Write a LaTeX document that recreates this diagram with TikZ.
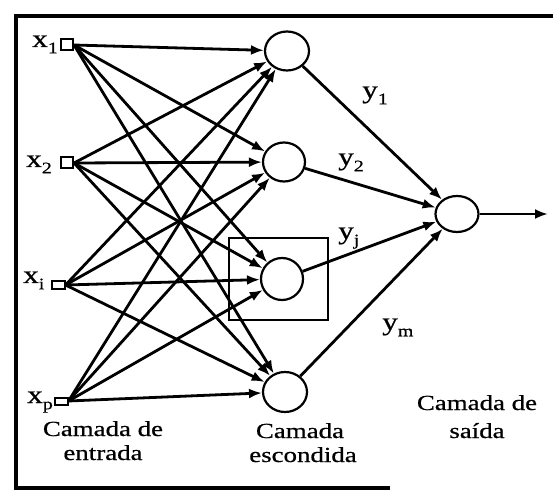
\documentclass[tikz,border=0pt]{standalone}
\usepackage{fontspec}
\setmainfont{Liberation Serif}[FakeStretch=1.25,FakeBold=0.6]
\usetikzlibrary{arrows.meta,shapes.geometric}
\newcommand\lsub[1]{\raisebox{-0.25em}{\fontsize{16}{16}\selectfont #1}}
\tikzset{
  inbox/.style={draw, rectangle, line width=2pt, inner sep=0pt},
  neuron/.style={draw, ellipse, line width=2.2pt, inner sep=0pt},
  conn/.style={line width=2.8pt, -{Latex[length=13pt,width=10pt]}},
  lbl/.style={anchor=base west, inner sep=0pt, font=\fontsize{25}{28}\selectfont},
  captxt/.style={anchor=base, inner sep=0pt, font=\fontsize{21.5}{24}\selectfont},
}
\begin{document}
\begin{tikzpicture}[x=1pt,y=-1pt]
\useasboundingbox (0,0) rectangle (555,492);
% frame
\draw[line width=4.5pt] (553,16) -- (16,16) -- (16,488) -- (390,488);
% inputs
\node[inbox, minimum width=12pt, minimum height=11pt] (x1) at (67,45) {};
\node[inbox, minimum width=12pt, minimum height=11pt] (x2) at (67,163) {};
\node[inbox, minimum width=13pt, minimum height=8pt] (xi) at (58,285) {};
\node[inbox, minimum width=13pt, minimum height=7pt] (xp) at (61,401) {};
% hidden
\node[neuron, minimum width=44pt, minimum height=39pt] (h1) at (287,51) {};
\node[neuron, minimum width=42pt, minimum height=39pt] (h2) at (284,162) {};
\node[neuron, minimum width=42pt, minimum height=42pt] (hj) at (282,279) {};
\node[neuron, minimum width=44pt, minimum height=40pt] (hm) at (285,392) {};
% output
\node[neuron, minimum width=43pt, minimum height=36pt] (o) at (457,214) {};
\coordinate (out) at (548,214);
% box around hj
\draw[line width=2.4pt] (229,238) rectangle (328,320);
% connections input -> hidden
\foreach \i in {x1,x2,xi,xp}{
  \foreach \h in {h1,h2,hj,hm}{
    \draw[conn] (\i.east) -- (\h);
  }
}
% hidden -> output
\foreach \h in {h1,h2,hj,hm}{
  \draw[conn] (\h) -- (o);
}
\draw[conn] (o) -- (out);
% labels
\node[lbl] (lx1) at (32,47) {x\lsub{1}};
\node[lbl] (lx2) at (26,167) {x\lsub{2}};
\node[lbl] (lxi) at (23,283) {x\lsub{i}};
\node[lbl] (lxp) at (27,403) {x\lsub{p}};
\node[lbl] (ly1) at (362,98) {y\lsub{1}};
\node[lbl] (ly2) at (338,165) {y\lsub{2}};
\node[lbl] (lyj) at (338,239) {y\lsub{j}};
\node[lbl] (lym) at (382,330) {y\lsub{m}};
% captions
\node[captxt] (ce1) at (103,436) {Camada de};
\node[captxt] (ce2) at (103,460) {entrada};
\node[captxt] (ch1) at (300,438) {Camada};
\node[captxt] (ch2) at (303,462) {escondida};
\node[captxt] (cs1) at (477,410) {Camada de};
\node[captxt] (cs2) at (477,438) {saída};
\end{tikzpicture}
\end{document}
